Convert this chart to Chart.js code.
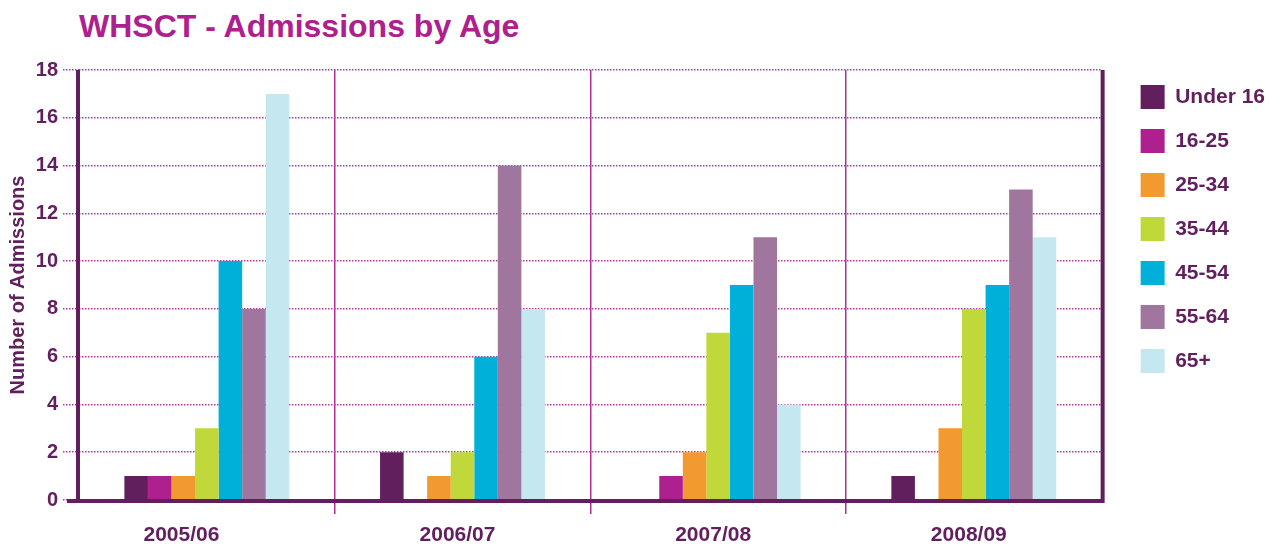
<!DOCTYPE html>
<html>
<head>
<meta charset="utf-8">
<script src="https://cdn.jsdelivr.net/npm/chart.js@4"></script>
<style>
  html, body { margin: 0; padding: 0; background: #fff; }
  #wrap { position: relative; width: 1282px; height: 547px; }
  #title {
    position: absolute; left: 79px; top: 8px;
    font: bold 32px "Liberation Sans", Arial, sans-serif;
    color: #ad208e; margin: 0;
  }
  canvas { position: absolute; left: 0; top: 0; }
</style>
</head>
<body>
<div id="wrap">
  <h1 id="title">WHSCT - Admissions by Age</h1>
  <canvas id="chart" width="1282" height="547"></canvas>
</div>
<script>
/* ===== data ===== */
const years    = ['2005/06', '2006/07', '2007/08', '2008/09'];
const ageBands = ['Under 16', '16-25', '25-34', '35-44', '45-54', '55-64', '65+'];
const under16  = [1, 2, 0, 1];
const age16_25 = [1, 0, 1, 0];
const age25_34 = [1, 1, 2, 3];
const age35_44 = [3, 2, 7, 8];
const age45_54 = [10, 6, 9, 9];
const age55_64 = [8, 14, 11, 13];
const age65up  = [17, 8, 4, 11];
const yTicks   = [0, 2, 4, 6, 8, 10, 12, 14, 16, 18];

/* ===== styles ===== */
const colours = ['#621f5e', '#ad208e', '#f29a30', '#c0d83a', '#00b0d8', '#a0769e', '#c4e7f0'];
const dark    = '#621f5e';
const font    = '"Liberation Sans", Arial, sans-serif';
const series  = [under16, age16_25, age25_34, age35_44, age45_54, age55_64, age65up];

/* ===== thick axis frame ===== */
const frame = {
  id: 'frame',
  afterDatasetsDraw (chart) {
    const { ctx, chartArea: a } = chart;
    ctx.save();
    ctx.strokeStyle = dark;
    ctx.lineWidth = 4;
    ctx.beginPath();
    ctx.moveTo(a.left - 1, a.top);
    ctx.lineTo(a.left - 1, a.bottom + 2);
    ctx.moveTo(a.left - 12, a.bottom + 1);
    ctx.lineTo(a.right + 3, a.bottom + 1);
    ctx.moveTo(a.right + 1, a.top);
    ctx.lineTo(a.right + 1, a.bottom + 3);
    ctx.stroke();
    ctx.restore();
  }
};

// empty helper axis: adds space without drawing anything
const spacer = (position, size) => ({
  position,
  display: true,
  afterFit: s => { if (position === 'top') s.height = size; else s.width = size; },
  grid: { display: false },
  border: { display: false },
  ticks: { display: false }
});

new Chart(document.getElementById('chart'), {
  type: 'bar',
  data: {
    labels: years,
    datasets: series.map((d, i) => ({
      label: ageBands[i],
      data: d,
      backgroundColor: colours[i],
      borderWidth: 0
    }))
  },
  options: {
    responsive: false,
    animation: false,
    categoryPercentage: 0.645,
    barPercentage: 1,
    layout: { padding: { top: 65, right: 7, bottom: 0, left: 0 } },
    plugins: {
      legend: {
        position: 'right',
        align: 'start',
        labels: {
          boxWidth: 24, boxHeight: 24, padding: 20,
          color: dark,
          font: { family: font, size: 21, weight: 'bold' }
        }
      },
      tooltip: { enabled: false }
    },
    scales: {
      x: {
        afterFit: s => { s.height = 47; },
        grid: {
          offset: true,
          tickLength: 14,
          lineWidth: 1.5,
          color: c => (c.type !== 'tick' || c.index === 0) ? 'rgba(0,0,0,0)' : '#b32e9a'
        },
        border: { display: false },
        ticks: {
          color: dark, padding: 9, labelOffset: -5,
          // first label sits further left in the original
          callback: (v, i) => i === 0 ? years[i] + '       ' : years[i],
          font: { family: font, size: 21, weight: 'bold' }
        }
      },
      y: {
        min: 0, max: 18,
        afterBuildTicks: s => { s.ticks = yTicks.map(v => ({ value: v })); },
        afterFit: s => { s.width = 79; },
        grid: {
          tickLength: 16,
          color: '#b8379f',
          lineWidth: 1.5,
          tickBorderDash: [1.5, 1.5]
        },
        border: { display: false, dash: [1.5, 1.5] },
        ticks: {
          color: dark, padding: 5,
          font: { family: font, size: 20, weight: 'bold' }
        },
        title: {
          display: true, text: 'Number of Admissions',
          color: dark, padding: { top: 6, bottom: 0 },
          font: { family: font, size: 20, weight: 'bold' }
        }
      },
      gapTop: spacer('top', 5),
      gapRight: spacer('right', 19)
    }
  },
  plugins: [frame]
});
</script>
</body>
</html>
